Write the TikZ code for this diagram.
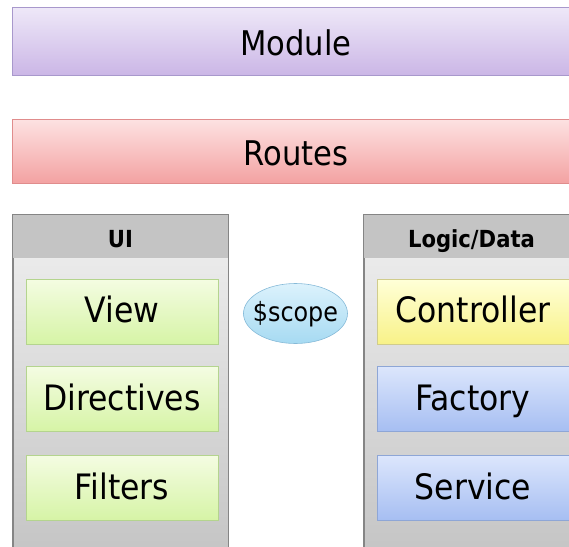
\documentclass[tikz,border=0pt]{standalone}
\usepackage{fontspec}
\setmainfont{DejaVu Sans Condensed}
\usetikzlibrary{shapes.geometric}

\definecolor{modtop}{HTML}{EEE8F8}
\definecolor{modbot}{HTML}{CBB6E6}
\definecolor{modline}{HTML}{A898CC}
\definecolor{routop}{HTML}{FDE2E2}
\definecolor{roubot}{HTML}{F3A2A2}
\definecolor{rouline}{HTML}{E08C8C}
\definecolor{grntop}{HTML}{F4FCE2}
\definecolor{grnbot}{HTML}{D6F4A6}
\definecolor{grnline}{HTML}{B4D48E}
\definecolor{yeltop}{HTML}{FFFFD8}
\definecolor{yelbot}{HTML}{F8F288}
\definecolor{yelline}{HTML}{D0CC8C}
\definecolor{blutop}{HTML}{DCE6FC}
\definecolor{blubot}{HTML}{A6BEF2}
\definecolor{bluline}{HTML}{8EA6D6}
\definecolor{ovltop}{HTML}{DCF2FC}
\definecolor{ovlbot}{HTML}{A6DAF2}
\definecolor{ovlline}{HTML}{86BAD8}
\definecolor{pnltop}{HTML}{F0F0F0}
\definecolor{pnlbot}{HTML}{C4C4C4}
\definecolor{pnlline}{HTML}{858585}
\definecolor{hdrfill}{HTML}{C4C4C4}

\tikzset{
  bar/.style={draw=#1line, line width=0.8pt, top color=#1top, bottom color=#1bot,
    minimum width=568pt, inner sep=0pt, text height=28.8pt, text depth=0pt,
    font=\fontsize{34}{40}\selectfont},
  panel/.style={draw=pnlline, line width=0.8pt, top color=pnltop, bottom color=pnlbot,
    minimum width=215pt, minimum height=345pt, inner sep=0pt},
  header/.style={fill=hdrfill, minimum width=215pt, minimum height=43pt, inner sep=0pt,
    text height=22pt, text depth=0pt,
    font=\bfseries\fontsize{23.5}{28}\selectfont},
  item/.style={draw=#1line, line width=0.6pt, top color=#1top, bottom color=#1bot,
    minimum width=192pt, minimum height=65pt, inner sep=0pt,
    text height=25.5pt, text depth=3pt,
    font=\fontsize{35}{42}\selectfont},
  bubble/.style={ellipse, draw=ovlline, line width=0.6pt, top color=ovltop, bottom color=ovlbot,
    minimum width=104pt, minimum height=60pt, inner sep=0pt,
    text height=19.3pt, text depth=3pt,
    font=\fontsize{26.5}{30}\selectfont}
}

\begin{document}
\begin{tikzpicture}[x=1pt, y=-1pt]
  \useasboundingbox (0,0) rectangle (569,546);
  \clip (0,0) rectangle (569,546);

  % top layers
  \node[bar=mod] (module) at (296,41.5) [minimum height=68pt] {Module};
  \node[bar=rou] (routes) at (296,151.5) [minimum height=64pt] {Routes};

  % UI panel
  \node[panel] (uipanel) at (120.5,387.5) {};
  \node[header, anchor=north] (uihead) at (uipanel.north) {UI};
  \draw[pnlline, line width=0.8pt] (uipanel.south west) -- (uipanel.north west) -- (uipanel.north east) -- (uipanel.south east);
  \node[item=grn] (view) at (122,311.5) {View};
  \node[item=grn] (directives) at (122,399) {Directives};
  \node[item=grn] (filters) at (122,488) {Filters};

  % Logic/Data panel
  \node[panel] (logicpanel) at (471.5,387.5) {};
  \node[header, anchor=north] (logichead) at (logicpanel.north) {Logic/Data};
  \draw[pnlline, line width=0.8pt] (logicpanel.south west) -- (logicpanel.north west) -- (logicpanel.north east) -- (logicpanel.south east);
  \node[item=yel] (controller) at (473,311.5) {Controller};
  \node[item=blu] (factory) at (473,399) {Factory};
  \node[item=blu] (service) at (473,488) {Service};

  % shared scope (text kept out of the ellipse's size)
  \node[bubble] (scope) at (295.5,313.5) {\makebox[0pt]{\$scope}};
\end{tikzpicture}
\end{document}
